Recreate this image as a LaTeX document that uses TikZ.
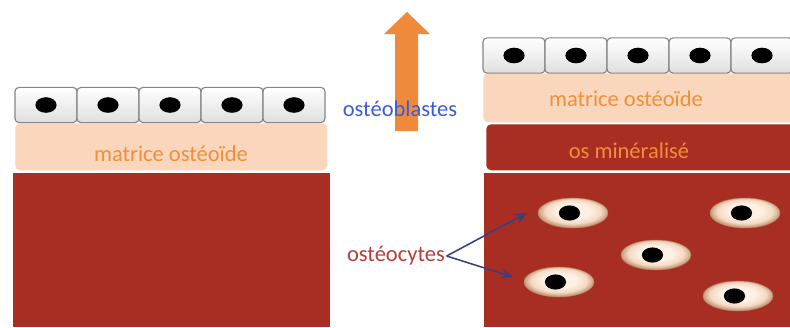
\documentclass[tikz,border=0pt]{standalone}
\usepackage{fontspec}
\setmainfont{Carlito}
\usetikzlibrary{arrows.meta,shapes.geometric}
\definecolor{BoneRed}{HTML}{A82D22}
\definecolor{OsteoidPeach}{HTML}{F9D6BC}
\definecolor{LabelOrange}{HTML}{F08F3C}
\definecolor{ArrowOrange}{HTML}{EF8A3A}
\definecolor{BlastBlue}{HTML}{3B5BDB}
\definecolor{CyteRed}{HTML}{B23F3A}
\definecolor{PointerNavy}{HTML}{3C3F7E}
\definecolor{CellEdge}{HTML}{858585}
\definecolor{CyteLight}{HTML}{FDF1E6}
\definecolor{CyteMid}{HTML}{F4D9C2}
\definecolor{CyteDark}{HTML}{C99A78}
\pgfdeclareradialshading{cyteshade}{\pgfpoint{0bp}{4bp}}{%
  color(0bp)=(CyteLight); color(12bp)=(CyteLight); color(20bp)=(CyteMid);
  color(25bp)=(CyteDark); color(50bp)=(CyteDark)}

\begin{document}
\begin{tikzpicture}[x=0.25mm, y=-0.25mm,
    cellbox/.style={draw=CellEdge, thick, rounded corners=1mm, top color=white, bottom color=gray!25,
      minimum width=15.5mm, minimum height=8.8mm, inner sep=0pt},
    nucleus/.style={ellipse, fill=black, minimum width=5.3mm, minimum height=3.9mm, inner sep=0pt},
    osteoid/.style={fill=OsteoidPeach, rounded corners=1.2mm, inner sep=0pt, anchor=north west},
    bonebox/.style={fill=BoneRed, inner sep=0pt, anchor=north west},
    osteocyte/.style={ellipse, shading=cyteshade, draw=CyteDark!85!black, line width=0.3pt,
      minimum width=17.5mm, minimum height=7.5mm, inner sep=0pt},
    lbl/.style={font=\fontsize{16}{19}\selectfont, inner sep=1pt},
    arr/.style={-{Stealth[length=3mm, width=2.6mm]}, line width=1.1pt, draw=PointerNavy}
  ]
    \useasboundingbox (0,0) rectangle (790,327);

    % before: lining cells on the osteoid
    \node[bonebox, minimum width=79.25mm, minimum height=38.5mm] (boneL) at (13,173) {};
    \node[osteoid, minimum width=78mm, minimum height=11.75mm] (osteoidL) at (15,123) {};
    \foreach \i in {0,...,4} {
      \node[cellbox] (cellL\i) at (46+62*\i,105) {};
      \node[nucleus] (nucL\i) at (cellL\i) {};
    }
    \node[lbl, text=LabelOrange] (osteoidLtext) at (171,154) {matrice ostéoïde};

    % after: new layers and trapped cells
    \node[bonebox, minimum width=77mm, minimum height=38.5mm] (boneR) at (484,173) {};
    \node[bonebox, rounded corners=1.2mm, minimum width=80mm, minimum height=11.5mm] (mineral) at (486,124) {};
    \node[osteoid, minimum width=80mm, minimum height=12.25mm] (osteoidR) at (483,73) {};
    \foreach \i in {0,...,4} {
      \node[cellbox] (cellR\i) at (514+62*\i,55.5) {};
      \node[nucleus] (nucR\i) at (cellR\i) {};
    }
    \node[lbl, text=LabelOrange] (osteoidRtext) at (626,99) {matrice ostéoïde};
    \node[lbl, text=LabelOrange] (mineraltext) at (629,151) {os minéralisé};

    \foreach \x/\y [count=\k] in {573/213, 745/213, 656/255, 559/282, 738/296} {
      \node[osteocyte] (cyte\k) at (\x,\y) {};
      \node[nucleus, minimum width=5.3mm, minimum height=3.8mm] (cyteNuc\k) at ([xshift=-2.5]cyte\k) {};
    }

    % growth arrow
    \fill[ArrowOrange] (395,131) -- (395,34) -- (384,34) -- (407,12) -- (430,34) -- (418,34) -- (418,131) -- cycle;
    \node[lbl, text=BlastBlue] (blasts) at (400,109) {ostéoblastes};

    \node[lbl, text=CyteRed] (cytes) at (396,256) {ostéocytes};
    \coordinate (tipA) at (527,213);
    \coordinate (tipB) at (513,277);
    \draw[arr] (cytes.east) -- (tipA);
    \draw[arr] (cytes.east) -- (tipB);
  \end{tikzpicture}
\end{document}
